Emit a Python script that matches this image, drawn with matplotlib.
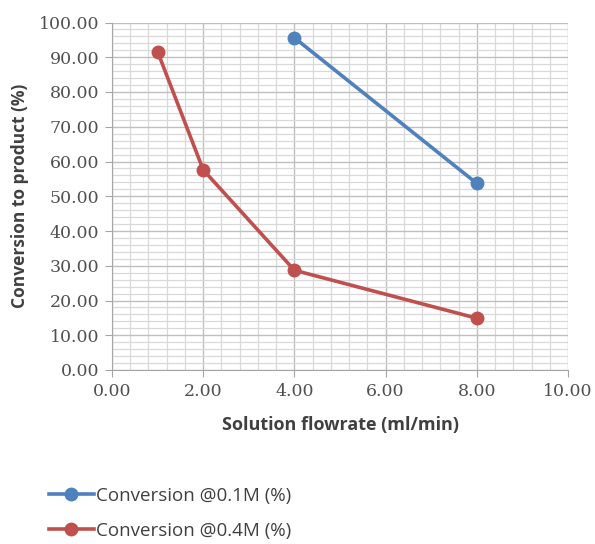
import matplotlib
matplotlib.use("Agg")
import matplotlib.pyplot as plt
from matplotlib.ticker import MultipleLocator, FormatStrFormatter
from matplotlib.lines import Line2D

# flowrate (ml/min) vs conversion (%)
flow_01 = [4, 8]
conv_01 = [95.6, 53.7]
flow_04 = [1, 2, 4, 8]
conv_04 = [91.6, 57.6, 28.7, 14.9]

blue = "#4f81bd"
red = "#c0504d"

fig = plt.figure(figsize=(5.95, 5.44), dpi=100)
ax = fig.add_axes([112 / 595, 1 - 370 / 544, (568 - 112) / 595, (370 - 22.5) / 544])

ax.plot(flow_01, conv_01, color=blue, lw=2.6, marker="o", ms=9, zorder=3)
ax.plot(flow_04, conv_04, color=red, lw=2.6, marker="o", ms=9, zorder=3)

ax.set_xlim(0, 10)
ax.set_ylim(0, 100)
ax.xaxis.set_major_locator(MultipleLocator(2))
ax.xaxis.set_minor_locator(MultipleLocator(0.4))
ax.yaxis.set_major_locator(MultipleLocator(10))
ax.yaxis.set_minor_locator(MultipleLocator(2))
ax.xaxis.set_major_formatter(FormatStrFormatter("%.2f"))
ax.yaxis.set_major_formatter(FormatStrFormatter("%.2f"))

ax.grid(which="major", color="#bfbfbf", lw=1.0)
ax.grid(which="minor", color="#d9d9d9", lw=0.9)
ax.set_axisbelow(True)

for side in ("top", "right"):
    ax.spines[side].set_visible(False)
for side in ("left", "bottom"):
    ax.spines[side].set_color("#a6a6a6")
ax.tick_params(which="major", length=5, color="#a6a6a6", labelsize=12.5,
               labelcolor="#505050", pad=4)
ax.tick_params(which="minor", length=0)
for lab in ax.get_xticklabels() + ax.get_yticklabels():
    lab.set_family("DejaVu Serif")

ax.set_xlabel("Solution flowrate (ml/min)", fontsize=13, fontweight="bold",
              color="#404040", labelpad=12, family="Open Sans")
ax.set_ylabel("Conversion to product (%)", fontsize=12.5, fontweight="bold",
              color="#404040", labelpad=7, family="Open Sans")

handles = [
    Line2D([], [], color=blue, lw=2.6, marker="o", ms=9),
    Line2D([], [], color=red, lw=2.6, marker="o", ms=9),
]
fig.legend(handles, ["Conversion @0.1M (%)", "Conversion @0.4M (%)"],
           loc="upper left", bbox_to_anchor=(32 / 595, 1 - 470 / 544),
           frameon=False, handlelength=2.4, handletextpad=0.1,
           labelspacing=0.9, prop={"family": "Open Sans", "size": 13.5},
           labelcolor="#404040")

fig.savefig("out.png", dpi=100)
